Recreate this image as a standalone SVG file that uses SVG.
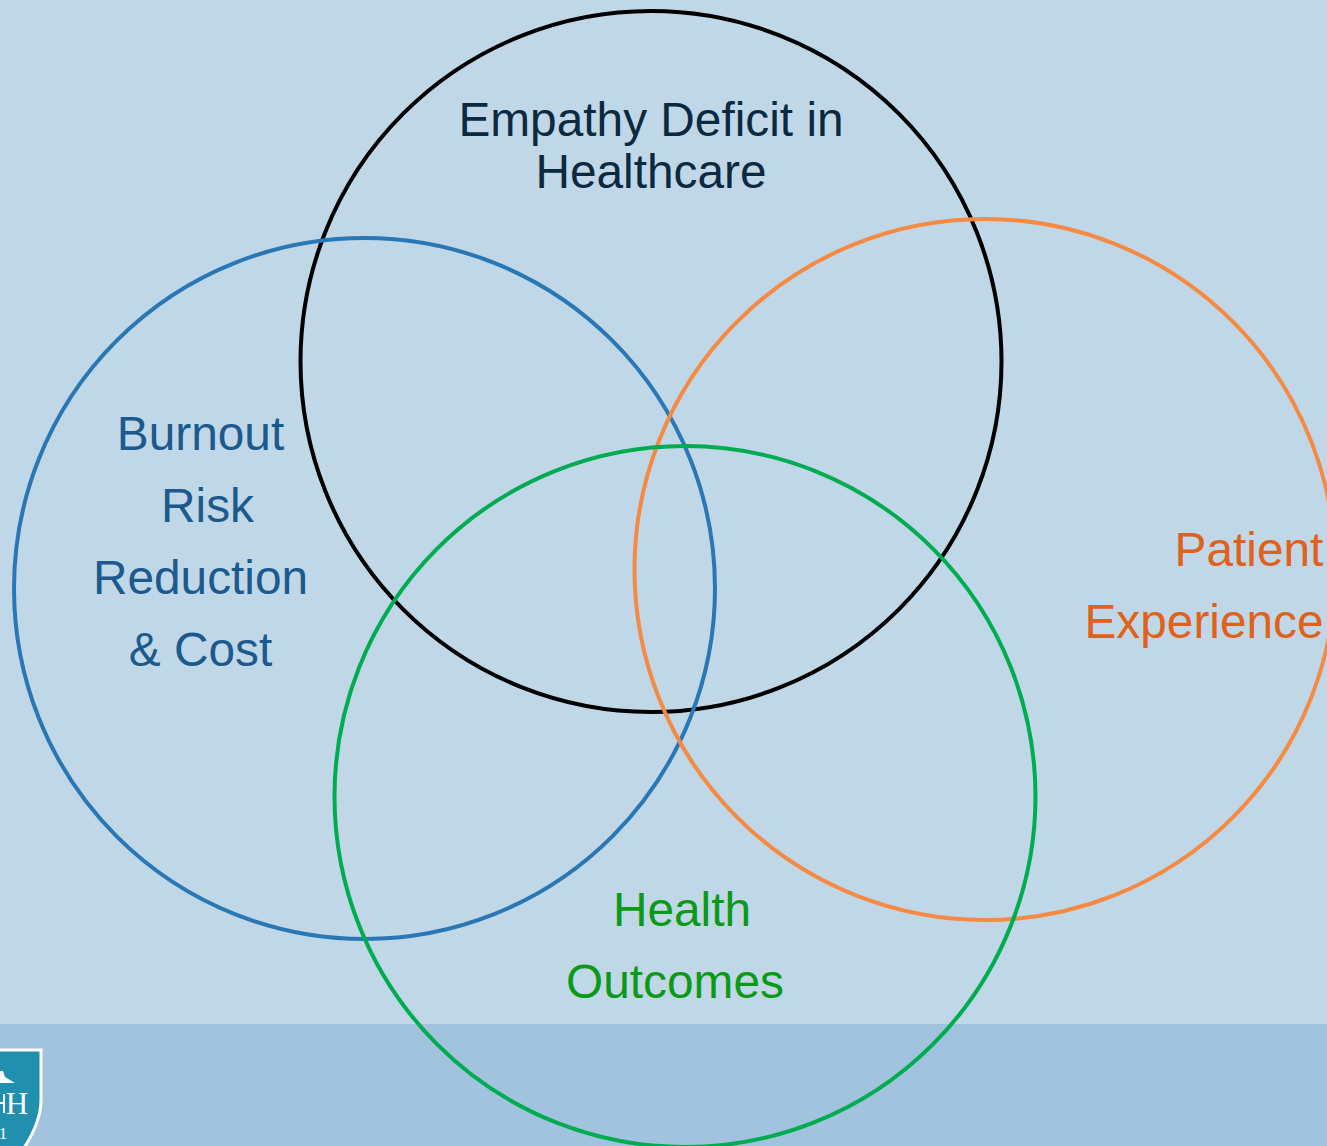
<svg xmlns="http://www.w3.org/2000/svg" width="1327" height="1146" viewBox="0 0 1327 1146">
<style>
.c{fill:none;stroke-width:4}
text{font-family:"Liberation Sans",Arial,sans-serif;font-size:47.8px;text-anchor:middle}
.s{font-family:"Liberation Serif",serif}
</style>
<rect width="1327" height="1146" fill="#c0d7e8"/>
<rect y="1024" width="1327" height="122" fill="#a1c3de"/>
<g id="logo"><path d="M-4 1050H41V1100C41 1118 33 1134 24 1148H-4Z" fill="#2190ae" stroke="#fff" stroke-width="3"/>
<path d="M0 1071H3L5 1077 15 1083H0Z" fill="#fff"/>
<path d="M0 1102H5V1104H0ZM3 1094H5V1113H3Z" fill="#fff"/>
<text class="s" x="17" y="1114" style="font-size:31px" fill="#fff">H</text>
<text class="s" x="3" y="1139" style="font-size:17px" fill="#fff">1</text></g>
<g id="n1"><circle class="c" cx="651" cy="361.500" r="350.500" stroke="#000"/>
<text x="651" y="136" fill="#0b2a3f">Empathy Deficit in</text><text x="651" y="188" fill="#0b2a3f">Healthcare</text></g>
<g id="n2"><circle class="c" cx="364.500" cy="588.500" r="350.500" stroke="#2a77b5"/>
<g fill="#1c5a8e"><text x="200.500" y="450">Burnout</text><text x="207.500" y="522">Risk</text><text x="200.500" y="594">Reduction</text><text x="200.500" y="666">&amp; Cost</text></g></g>
<g id="n3"><circle class="c" cx="985" cy="569.500" r="350.500" stroke="#f58a42"/>
<g fill="#e0621a"><text x="1249" y="566">Patient</text><text x="1204" y="638">Experience</text></g></g>
<g id="n4"><circle class="c" cx="685" cy="796.500" r="350.500" stroke="#00ac50"/>
<g fill="#0a9a16"><text x="682" y="926">Health</text><text x="675" y="998">Outcomes</text></g></g>
<g id="connectors"></g>
</svg>
